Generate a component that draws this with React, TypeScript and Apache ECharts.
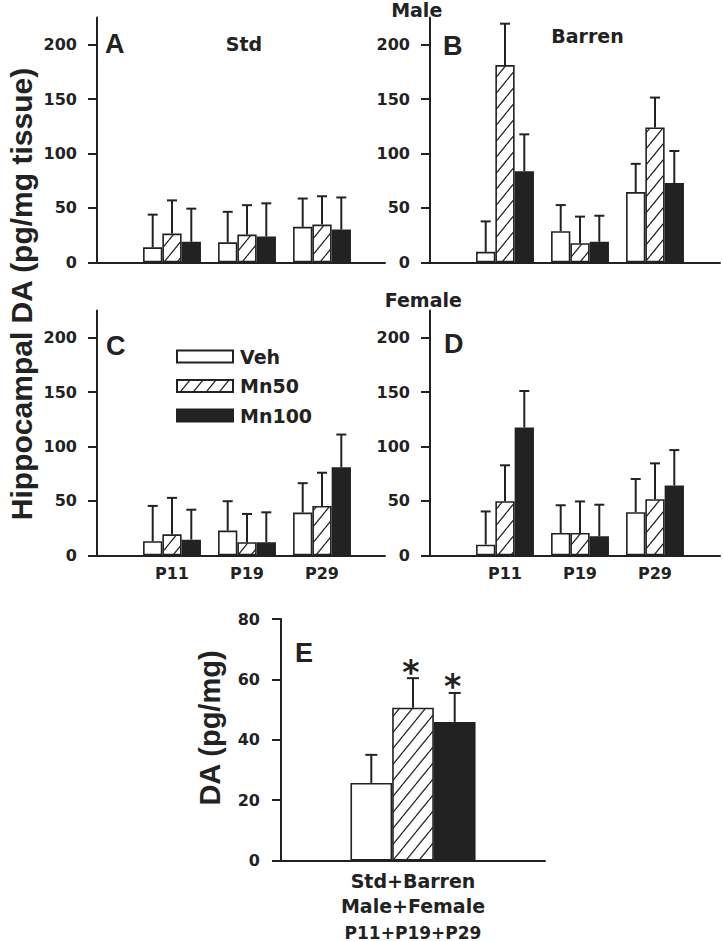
import React, { useEffect, useRef } from 'react';
import * as echarts from 'echarts';

// ---------- data ----------
const groups = ['P11', 'P19', 'P29'];
const groupPos = [1, 2, 3];
const treatments = ['Veh', 'Mn50', 'Mn100'];

// Panel A (Male, Std)
const aVeh = [13.8, 18.4, 32.6];
const aMn50 = [26.4, 25.5, 34.7];
const aMn100 = [18.8, 23.7, 30.1];
const aVehErr = [30, 28, 26];
const aMn50Err = [30.5, 27, 26];
const aMn100Err = [30.5, 30.5, 29.5];

// Panel B (Male, Barren)
const bVeh = [9.6, 28.6, 64.5];
const bMn50 = [181.3, 17.5, 123.9];
const bMn100 = [83.6, 18.8, 72.8];
const bVehErr = [28, 24, 26];
const bMn50Err = [38, 24.5, 27.5];
const bMn100Err = [34, 24, 29.5];

// Panel C (Female, Std)
const cVeh = [12.9, 22.7, 39.3];
const cMn50 = [19.3, 12, 45.4];
const cMn100 = [14.4, 12, 81];
const cVehErr = [32.5, 27, 27];
const cMn50Err = [33.5, 26, 30.5];
const cMn100Err = [27.5, 27.5, 30];

// Panel D (Female, Barren)
const dVeh = [9.8, 20.5, 39.6];
const dMn50 = [49.7, 20.5, 51.5];
const dMn100 = [117.5, 17.5, 64.2];
const dVehErr = [30.5, 25.5, 30.5];
const dMn50Err = [33, 29, 33];
const dMn100Err = [33.5, 29, 32.5];

// Panel E (pooled)
const ePos = [1];
const eMeans = [25.7, 50.6, 45.9];
const eErrs = [9.3, 9.8, 9.6];
const eSig = [0, 1, 1];
const eLabelLines = ['Std+Barren', 'Male+Female', 'P11+P19+P29'];

const yTicksTop = [0, 50, 100, 150, 200];

// ---------- styling ----------
const INK = '#222';
const DV = 'DejaVu Sans';
const LS = 'Liberation Sans';

function makeHatch() {
  const w = 13, h = 16;
  const c = document.createElement('canvas');
  c.width = w; c.height = h;
  const ctx = c.getContext('2d')!;
  ctx.fillStyle = '#fff';
  ctx.fillRect(0, 0, w, h);
  ctx.strokeStyle = INK;
  ctx.lineWidth = 1.3;
  for (const dx of [-w, 0, w]) {
    ctx.beginPath();
    ctx.moveTo(dx, h);
    ctx.lineTo(dx + w, 0);
    ctx.stroke();
  }
  return { image: c, repeat: 'repeat', imageWidth: w, imageHeight: h } as any;
}

export default function App() {
  const ref = useRef<HTMLDivElement>(null);

  useEffect(() => {
    document.body.style.margin = '0';
    const chart = echarts.init(ref.current!, null, { renderer: 'svg' });
    const hatch = makeHatch();
    const styles = [
      { color: '#fff', borderColor: INK, borderWidth: 1.6 },
      { color: hatch, borderColor: INK, borderWidth: 1.6 },
      { color: INK, borderColor: INK, borderWidth: 1.6 },
    ];

    const panels = [
      { vals: [aVeh, aMn50, aMn100], errs: [aVehErr, aMn50Err, aMn100Err], left: 97, top: 17.5, width: 288, labels: false },
      { vals: [bVeh, bMn50, bMn100], errs: [bVehErr, bMn50Err, bMn100Err], left: 430, top: 17.5, width: 290, labels: false },
      { vals: [cVeh, cMn50, cMn100], errs: [cVehErr, cMn50Err, cMn100Err], left: 97, top: 310.5, width: 288, labels: true },
      { vals: [dVeh, dMn50, dMn100], errs: [dVehErr, dMn50Err, dMn100Err], left: 430, top: 310.5, width: 290, labels: true },
    ];
    const unitPx = 75;
    const barW = 19.3;
    const panelH = 244.8;

    const grids: any[] = [];
    const xAxes: any[] = [];
    const yAxes: any[] = [];
    const series: any[] = [];

    const axisLineStyle = { show: true, lineStyle: { color: INK, width: 2 } };
    const tickLabel = { fontFamily: DV, fontWeight: 'bold', fontSize: 16, color: INK };

    const errRender = (bw: number, capHalf: number) => (params: any, api: any) => {
      const x = api.value(0), m = api.value(1), e = api.value(2), k = api.value(3), sig = api.value(4);
      const base = api.coord([x, m]);
      const top = api.coord([x, m + e]);
      const cx = base[0] + (k - 1) * bw;
      const children: any[] = [
        { type: 'line', shape: { x1: cx, y1: base[1], x2: cx, y2: top[1] }, style: { stroke: INK, lineWidth: 2 } },
        { type: 'line', shape: { x1: cx - capHalf, y1: top[1], x2: cx + capHalf, y2: top[1] }, style: { stroke: INK, lineWidth: 2 } },
      ];
      if (sig === 1) {
        children.push({
          type: 'text',
          style: { text: '*', x: cx - 2, y: top[1] - 6, align: 'center', verticalAlign: 'middle', fontFamily: DV, fontWeight: 'bold', fontSize: 33, fill: INK },
        });
      }
      return { type: 'group', children };
    };

    panels.forEach((p, pi) => {
      grids.push({ left: p.left, top: p.top, width: p.width, height: panelH, containLabel: false });
      xAxes.push({
        gridIndex: pi, type: 'value', min: 0, max: p.width / unitPx,
        axisLine: axisLineStyle, axisTick: { show: false }, splitLine: { show: false },
        axisLabel: {
          show: p.labels, customValues: groupPos, margin: 10, ...tickLabel,
          formatter: (v: number) => groups[Math.round(v) - 1] ?? '',
        },
      });
      yAxes.push({
        gridIndex: pi, type: 'value', min: 0, max: 225, interval: 25,
        axisLine: axisLineStyle,
        axisTick: { show: true, length: 9, lineStyle: { color: INK, width: 2 }, customValues: yTicksTop },
        axisLabel: { customValues: yTicksTop, margin: 20, ...tickLabel },
        splitLine: { show: false },
      });
      treatments.forEach((t, k) => {
        series.push({
          type: 'bar', name: t, xAxisIndex: pi, yAxisIndex: pi,
          barWidth: barW, barGap: '0%',
          data: groupPos.map((x, i) => [x, p.vals[k][i]]),
          itemStyle: styles[k],
        });
      });
      const rows: number[][] = [];
      treatments.forEach((t, k) => groupPos.forEach((x, i) => rows.push([x, p.vals[k][i], p.errs[k][i], k, 0])));
      series.push({
        type: 'custom', xAxisIndex: pi, yAxisIndex: pi, data: rows, z: 5,
        encode: { x: 0, y: 1 }, renderItem: errRender(barW, 5),
      });
    });

    // Panel E
    const eIdx = 4;
    grids.push({ left: 281, top: 619, width: 264, height: 243.3 });
    xAxes.push({
      gridIndex: eIdx, type: 'value', min: 0, max: 2,
      axisLine: axisLineStyle, axisTick: { show: false }, splitLine: { show: false },
      axisLabel: {
        customValues: ePos, margin: 8,
        formatter: () => `{a|${eLabelLines[0]}}\n{a|${eLabelLines[1]}}\n{b|${eLabelLines[2]}}`,
        rich: {
          a: { fontFamily: DV, fontWeight: 'bold', fontSize: 19, lineHeight: 25, color: INK },
          b: { fontFamily: DV, fontWeight: 'bold', fontSize: 17, lineHeight: 28, color: INK },
        },
      },
    });
    yAxes.push({
      gridIndex: eIdx, type: 'value', min: 0, max: 80, interval: 20,
      axisLine: axisLineStyle,
      axisTick: { show: true, length: 9, lineStyle: { color: INK, width: 2 } },
      axisLabel: { margin: 21, ...tickLabel },
      splitLine: { show: false },
    });
    const eBarW = 41.7;
    treatments.forEach((t, k) => {
      series.push({
        type: 'bar', name: t, xAxisIndex: eIdx, yAxisIndex: eIdx,
        barWidth: eBarW, barGap: '0%',
        data: ePos.map((x) => [x, eMeans[k]]),
        itemStyle: styles[k],
      });
    });
    series.push({
      type: 'custom', xAxisIndex: eIdx, yAxisIndex: eIdx, z: 5, encode: { x: 0, y: 1 },
      data: treatments.map((t, k) => [ePos[0], eMeans[k], eErrs[k], k, eSig[k]]),
      renderItem: errRender(eBarW, 6),
    });

    const txt = (text: string, x: number, y: number, font: string, size: number, align = 'center', rotation = 0) => ({
      type: 'text', x, y, rotation,
      style: { text, align, verticalAlign: 'middle', fontFamily: font, fontWeight: 'bold', fontSize: size, fill: INK },
    });

    chart.setOption({
      animation: false,
      backgroundColor: '#fff',
      grid: grids,
      xAxis: xAxes,
      yAxis: yAxes,
      series,
      legend: {
        data: treatments, orient: 'vertical', left: 171, top: 342,
        itemWidth: 56, itemHeight: 12, itemGap: 10.5, icon: 'rect', selectedMode: false,
        textStyle: { fontFamily: DV, fontWeight: 'bold', fontSize: 19, color: INK, padding: [0, 0, 0, 2] },
      },
      graphic: [
        txt('Hippocampal DA (pg/mg tissue)', 21, 294, LS, 30, 'center', Math.PI / 2),
        txt('DA (pg/mg)', 210, 728, LS, 29, 'center', Math.PI / 2),
        txt('A', 105, 44, LS, 27, 'left'),
        txt('B', 443, 45.5, LS, 27, 'left'),
        txt('C', 106, 345.5, LS, 27, 'left'),
        txt('D', 444, 343.5, LS, 27, 'left'),
        txt('E', 295, 652.5, LS, 27, 'left'),
        txt('Std', 244, 43.5, DV, 19),
        txt('Barren', 587.5, 36, DV, 19),
        txt('Male', 416.7, 10, DV, 19),
        txt('Female', 423.3, 299.7, DV, 19),
      ],
    });
    return () => chart.dispose();
  }, []);

  return <div ref={ref} style={{ width: 723, height: 941 }} />;
}
